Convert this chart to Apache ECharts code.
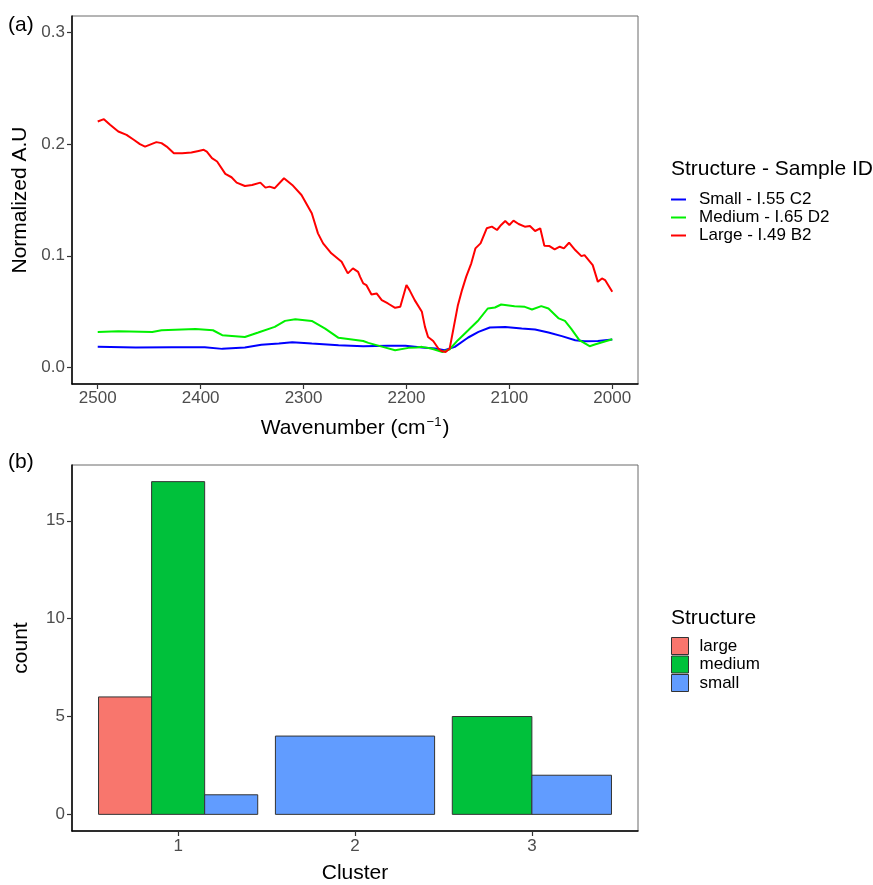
<!DOCTYPE html>
<html>
<head>
<meta charset="utf-8">
<script src="https://cdn.jsdelivr.net/npm/echarts@6/dist/echarts.min.js"></script>
<style>
html,body{margin:0;padding:0;background:#fff;}
#chart{width:873px;height:885px;}
</style>
</head>
<body>
<div id="chart"></div>
<script>
// ---- Panel (a): spectra ----
const wnTicks = [2000, 2100, 2200, 2300, 2400, 2500];
const auTicks = [0, 0.1, 0.2, 0.3];

const smallWn = [2500,2463,2428,2396,2379,2357,2341,2324,2311,2292,2266,2242,2218,2201,2185,2172,2163,2153,2140,2130,2119,2104,2088,2075,2062,2049,2036,2027,2014,2000];
const smallAU = [0.0183,0.0177,0.0180,0.0180,0.0165,0.0177,0.0201,0.0213,0.0225,0.0213,0.0198,0.0189,0.0192,0.0192,0.0177,0.0168,0.0153,0.0183,0.0267,0.0317,0.0357,0.0362,0.0347,0.0339,0.0312,0.0279,0.0243,0.0234,0.0236,0.0249];

const mediumWn = [2500,2480,2447,2438,2405,2388,2379,2357,2344,2328,2318,2308,2292,2279,2266,2253,2242,2237,2223,2211,2198,2190,2185,2176,2165,2158,2150,2140,2130,2121,2114,2108,2095,2085,2078,2069,2062,2052,2046,2040,2032,2022,2017,2009,2000];
const mediumAU = [0.0317,0.0323,0.0317,0.0332,0.0344,0.0332,0.0288,0.0272,0.0312,0.0362,0.0416,0.0431,0.0416,0.0347,0.0264,0.0249,0.0236,0.0219,0.0183,0.0153,0.0174,0.0177,0.0183,0.0168,0.0137,0.0162,0.0243,0.0332,0.0422,0.0527,0.0536,0.0563,0.0548,0.0542,0.0518,0.0548,0.0527,0.0438,0.0416,0.0347,0.0243,0.0189,0.0204,0.0227,0.0252];

const largeWn = [2500,2494,2488,2480,2472,2465,2459,2454,2443,2438,2433,2426,2418,2409,2402,2397,2394,2389,2384,2376,2370,2365,2357,2350,2342,2337,2333,2328,2319,2311,2302,2292,2286,2281,2273,2263,2257,2252,2247,2245,2242,2239,2234,2229,2224,2218,2211,2206,2200,2197,2192,2185,2182,2179,2174,2169,2166,2162,2158,2154,2150,2146,2142,2137,2133,2128,2122,2117,2112,2108,2104,2100,2096,2091,2085,2080,2075,2070,2066,2061,2056,2051,2047,2042,2036,2030,2027,2019,2014,2010,2007,2000];
const largeAU = [0.2204,0.2225,0.2174,0.2114,0.2084,0.2040,0.2001,0.1979,0.2019,0.2010,0.1979,0.1920,0.1920,0.1926,0.1940,0.1950,0.1934,0.1875,0.1845,0.1734,0.1704,0.1656,0.1626,0.1635,0.1656,0.1611,0.1620,0.1606,0.1695,0.1635,0.1545,0.1381,0.1201,0.1111,0.1022,0.0946,0.0842,0.0887,0.0856,0.0811,0.0752,0.0737,0.0653,0.0662,0.0602,0.0572,0.0533,0.0542,0.0737,0.0692,0.0602,0.0497,0.0362,0.0272,0.0236,0.0168,0.0146,0.0137,0.0168,0.0362,0.0557,0.0692,0.0811,0.0932,0.1066,0.1111,0.1246,0.1261,0.1231,0.1276,0.1312,0.1276,0.1315,0.1285,0.1261,0.1267,0.1222,0.1246,0.1090,0.1087,0.1057,0.1081,0.1066,0.1117,0.1051,0.0997,0.1006,0.0916,0.0766,0.0797,0.0782,0.0677];

const lineNames = ['Small - I.55 C2', 'Medium - I.65 D2', 'Large - I.49 B2'];

// ---- Panel (b): cluster counts ----
const clusters = [1, 2, 3];
const clusterTicks = [1, 2, 3];
const countTicks = [0, 5, 10, 15];
const structures = ['large', 'medium', 'small'];
const countLarge = [6, 0, 0];
const countMedium = [17, 0, 5];
const countSmall = [1, 4, 2];

const counts = { large: countLarge, medium: countMedium, small: countSmall };
const barColors = { large: '#F8766D', medium: '#00C13B', small: '#619CFF' };

const FONT = '"Liberation Sans", Arial, Helvetica, sans-serif';
const tickLabel = { color: '#4D4D4D', fontSize: 17, fontFamily: FONT };
const titleStyle = { color: '#000', fontSize: 21, fontFamily: FONT };

function zip(a, b) { return a.map((v, i) => [v, b[i]]); }

function barRender(structure) {
  return function (params, api) {
    const i = params.dataIndex;
    const val = api.value(1);
    if (!val) return null;
    const present = structures.filter(s => counts[s][i] > 0);
    const n = present.length;
    const slot = present.indexOf(structure);
    const total = 0.9;
    const w = total / n;
    const c = api.value(0);
    const x0 = c - total / 2 + slot * w;
    const p0 = api.coord([x0, val]);
    const p1 = api.coord([x0 + w, 0]);
    return {
      type: 'rect',
      shape: { x: p0[0], y: p0[1], width: p1[0] - p0[0], height: p1[1] - p0[1] },
      style: { fill: barColors[structure], stroke: '#333333', lineWidth: 1 }
    };
  };
}

const chart = echarts.init(document.getElementById('chart'), null, { renderer: 'canvas' });

const axisLineStyle = { show: true, onZero: false, lineStyle: { color: '#000', width: 1.5 } };
const tickStyle = { show: true, length: 5, lineStyle: { color: '#333', width: 1.2 } };

const option = {
  backgroundColor: '#ffffff',
  animation: false,
  textStyle: { fontFamily: FONT },
  grid: [
    { left: 72, top: 16, width: 566, height: 368, show: true, borderColor: '#6b6b6b', borderWidth: 1 },
    { left: 72, top: 465, width: 566, height: 367, show: true, borderColor: '#6b6b6b', borderWidth: 1 }
  ],
  xAxis: [
    {
      gridIndex: 0, type: 'value', inverse: true, min: 1975, max: 2525,
      axisLine: axisLineStyle,
      axisTick: Object.assign({ customValues: wnTicks }, tickStyle),
      axisLabel: Object.assign({ customValues: wnTicks, margin: 6, formatter: v => String(v) }, tickLabel),
      splitLine: { show: false },
      name: '{a|Wavenumber (cm}{s|−1}{a|)}',
      nameLocation: 'middle', nameGap: 32,
      nameTextStyle: {
        rich: {
          a: { fontSize: 21, fontFamily: FONT, color: '#000', lineHeight: 24 },
          s: { fontSize: 13, fontFamily: FONT, color: '#000', verticalAlign: 'top', lineHeight: 24, padding: [0, 1, 0, 1] }
        }
      }
    },
    {
      gridIndex: 1, type: 'value', min: 0.4, max: 3.6,
      axisLine: axisLineStyle,
      axisTick: Object.assign({ customValues: clusterTicks }, tickStyle),
      axisLabel: Object.assign({ customValues: clusterTicks, margin: 7 }, tickLabel),
      splitLine: { show: false },
      name: 'Cluster', nameLocation: 'middle', nameGap: 32,
      nameTextStyle: titleStyle
    }
  ],
  yAxis: [
    {
      gridIndex: 0, type: 'value', min: -0.015, max: 0.315,
      axisLine: axisLineStyle,
      axisTick: Object.assign({ customValues: auTicks }, tickStyle),
      axisLabel: Object.assign({ customValues: auTicks, margin: 7, formatter: v => v.toFixed(1) }, tickLabel),
      splitLine: { show: false },
      name: 'Normalized A.U', nameLocation: 'middle', nameGap: 40,
      nameTextStyle: titleStyle
    },
    {
      gridIndex: 1, type: 'value', min: -0.85, max: 17.85,
      axisLine: axisLineStyle,
      axisTick: Object.assign({ customValues: countTicks }, tickStyle),
      axisLabel: Object.assign({ customValues: countTicks, margin: 7 }, tickLabel),
      splitLine: { show: false },
      name: 'count', nameLocation: 'middle', nameGap: 40,
      nameTextStyle: titleStyle
    }
  ],
  legend: [
    {
      data: lineNames,
      orient: 'vertical', left: 671, top: 191, padding: 0,
      icon: 'rect', itemWidth: 15, itemHeight: 2, itemGap: 1,
      selectedMode: false,
      textStyle: { color: '#000', fontSize: 17, fontFamily: FONT, lineHeight: 17, padding: [0, 0, 0, 8] }
    },
    {
      data: structures,
      orient: 'vertical', left: 671, top: 637, padding: 0,
      icon: 'rect', itemWidth: 17, itemHeight: 17, itemGap: 0.5,
      selectedMode: false,
      itemStyle: { borderColor: '#333', borderWidth: 1 },
      textStyle: { color: '#000', fontSize: 17, fontFamily: FONT, lineHeight: 17, padding: [0, 0, 0, 6] }
    }
  ],
  graphic: [
    { type: 'text', left: 8, top: 15, style: { text: '(a)', fontSize: 21, fontFamily: FONT, fill: '#000' } },
    { type: 'text', left: 8, top: 452, style: { text: '(b)', fontSize: 21, fontFamily: FONT, fill: '#000' } },
    { type: 'text', left: 671, top: 159, style: { text: 'Structure - Sample ID', fontSize: 21, fontFamily: FONT, fill: '#000' } },
    { type: 'text', left: 671, top: 608, style: { text: 'Structure', fontSize: 21, fontFamily: FONT, fill: '#000' } }
  ],
  series: [
    { name: lineNames[0], type: 'line', xAxisIndex: 0, yAxisIndex: 0, data: zip(smallWn, smallAU), symbol: 'none',
      lineStyle: { color: '#0000FF', width: 2 }, itemStyle: { color: '#0000FF' } },
    { name: lineNames[1], type: 'line', xAxisIndex: 0, yAxisIndex: 0, data: zip(mediumWn, mediumAU), symbol: 'none',
      lineStyle: { color: '#00F000', width: 2 }, itemStyle: { color: '#00F000' } },
    { name: lineNames[2], type: 'line', xAxisIndex: 0, yAxisIndex: 0, data: zip(largeWn, largeAU), symbol: 'none',
      lineStyle: { color: '#FF0000', width: 2 }, itemStyle: { color: '#FF0000' } }
  ].concat(structures.map(s => ({
    name: s, type: 'custom', xAxisIndex: 1, yAxisIndex: 1,
    itemStyle: { color: barColors[s] },
    renderItem: barRender(s),
    encode: { x: 0, y: 1 },
    data: zip(clusters, counts[s])
  })))
};

chart.setOption(option);
</script>
</body>
</html>
